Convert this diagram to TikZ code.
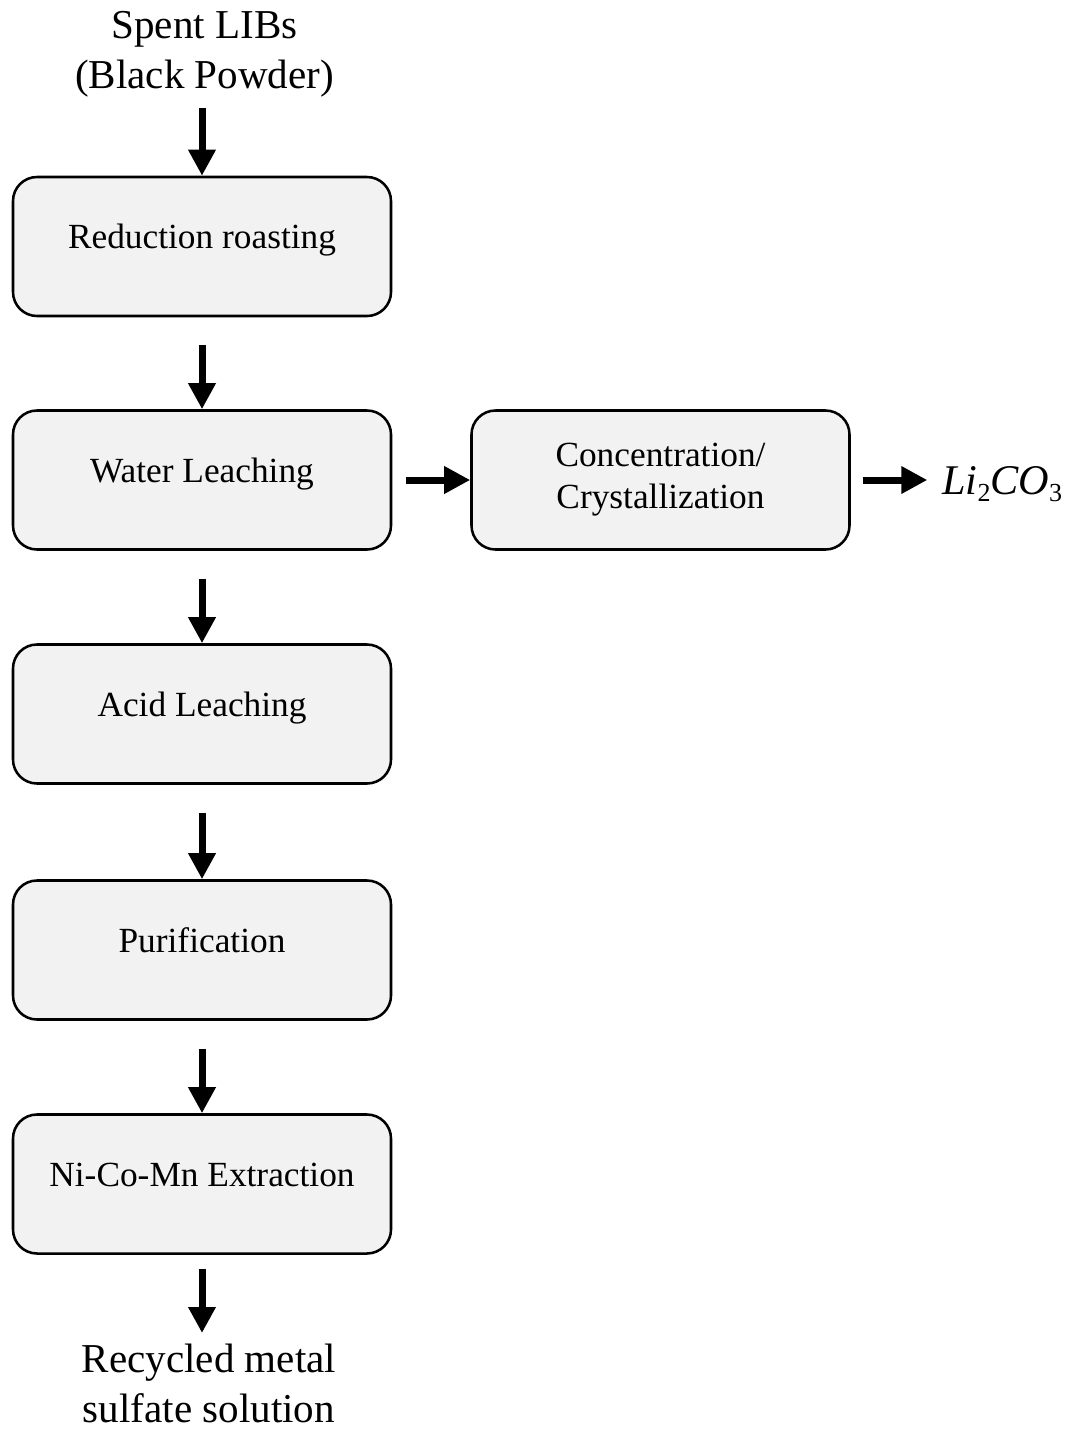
\documentclass[tikz,border=0pt]{standalone}
\usepackage{fontspec}
\setmainfont{Liberation Serif}
\usetikzlibrary{arrows.meta}
\tikzset{
  procbox/.style={draw=black, line width=1.9pt, fill=gray!10, rounded corners=18pt,
    minimum width=283.5pt, minimum height=104.25pt, align=center, inner sep=0pt,
    font=\fontsize{26.5}{31.5}\selectfont},
  oneline/.style={text height=11pt, text depth=8pt},
  endtext/.style={align=center, inner sep=0pt, font=\fontsize{30.8}{37.5}\selectfont},
  flowarrow/.style={line width=5.25pt, -{Triangle[length=19.5pt,width=19.5pt]}}
}
\begin{document}
\begin{tikzpicture}[x=0.75pt,y=-0.75pt]
\useasboundingbox (0,0) rectangle (1071,1429);
\node[endtext] (src) at (204.5,54.5) {Spent LIBs\\(Black Powder)};
\node[procbox, oneline] (rr) at (202,246.5) {Reduction roasting};
\node[procbox, oneline] (wl) at (202,480) {Water Leaching};
\node[procbox, oneline] (al) at (202,714) {Acid Leaching};
\node[procbox, oneline] (pu) at (202,950) {Purification};
\node[procbox, oneline] (ex) at (202,1184) {Ni-Co-Mn Extraction};
\node[procbox] (cc) at (660.5,480) {Concentration/\\Crystallization};
\node[endtext] (out) at (209,1383) {Recycled metal\\sulfate solution};
\node[inner sep=0pt, anchor=west] (li) at (942,484) {\fontsize{31.7}{33}\selectfont\itshape Li\raisebox{-5pt}{\fontsize{19.5}{19.5}\selectfont\upshape 2}CO\raisebox{-5pt}{\fontsize{19.5}{19.5}\selectfont\upshape 3}};
\coordinate (s0) at (202,108);
\draw[flowarrow] (s0) -- (rr.north);
\draw[flowarrow, shorten <=21pt] (rr.south) -- (wl.north);
\draw[flowarrow, shorten <=21pt] (wl.south) -- (al.north);
\draw[flowarrow, shorten <=21pt] (al.south) -- (pu.north);
\draw[flowarrow, shorten <=21pt] (pu.south) -- (ex.north);
\coordinate (e0) at (202,1333);
\draw[flowarrow, shorten <=10.5pt] (ex.south) -- (e0);
\draw[flowarrow, shorten <=10.5pt] (wl.east) -- (cc.west);
\draw[flowarrow, shorten <=9pt, shorten >=11pt] (cc.east) -- (cc.east -| li.west);
\end{tikzpicture}
\end{document}
